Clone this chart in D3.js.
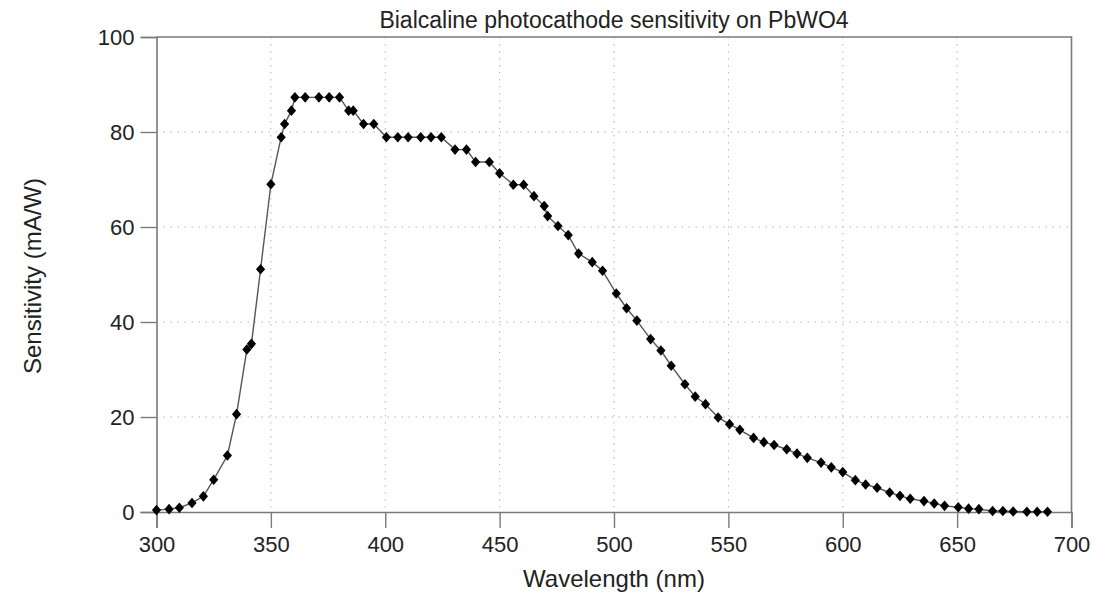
<!DOCTYPE html>
<html>
<head>
<meta charset="utf-8">
<script src="https://cdn.jsdelivr.net/npm/d3@7"></script>
<style>
  body { margin: 0; background: #fff; }
  text { font-family: "Liberation Sans", Arial, sans-serif; fill: #222; }
</style>
</head>
<body>
<script>
// wavelength (nm)
var wavelengths = [300, 305.5, 310, 315.5, 320.5, 325, 331, 335, 339.5, 341.5,
    345.5, 350, 354.5, 356, 359, 360.5, 365, 371, 375.5, 380,
    384, 386, 390.5, 395, 400.5, 405.5, 410, 415.5, 420, 424.5,
    430.5, 435.5, 439.5, 445.5, 450, 456, 460.5, 465, 469.5, 471,
    475.5, 480, 484.5, 490.5, 495, 501, 505.5, 510, 516, 520.5,
    525, 531, 535.5, 540, 545.5, 550.5, 555, 561, 565.5, 570,
    575.5, 580, 584.5, 590.5, 595, 600, 605.5, 610, 615, 620.5,
    625, 629.5, 635.5, 640, 644.5, 650.5, 655, 659.5, 665.5, 670,
    674.5, 680.5, 685, 689.5]
// sensitivity (mA/W)
var sensitivity = [0.4, 0.6, 0.9, 1.9, 3.3, 6.8, 11.9, 20.6, 34.2, 35.4,
    51.1, 69.0, 78.9, 81.7, 84.5, 87.3, 87.3, 87.3, 87.3, 87.3,
    84.5, 84.5, 81.7, 81.7, 78.9, 78.9, 78.9, 78.9, 78.9, 78.9,
    76.3, 76.3, 73.7, 73.7, 71.3, 68.9, 68.9, 66.5, 64.4, 62.3,
    60.2, 58.3, 54.4, 52.6, 50.8, 46.0, 42.9, 40.3, 36.4, 34.0,
    30.8, 26.9, 24.3, 22.7, 19.9, 18.5, 17.3, 15.6, 14.7, 14.1,
    13.2, 12.3, 11.4, 10.4, 9.4, 8.4, 6.7, 5.8, 5.1, 4.1,
    3.4, 2.8, 2.3, 1.8, 1.3, 1.0, 0.7, 0.6, 0.2, 0.2,
    0.1, 0.05, 0.05, 0.05]

var xTicks = [300, 350, 400, 450, 500, 550, 600, 650, 700]
var yTicks = [0, 20, 40, 60, 80, 100]

var titleText = "Bialcaline photocathode sensitivity on PbWO4"
var xLabel = "Wavelength (nm)"
var yLabel = "Sensitivity (mA/W)"

const width = 1094
const height = 594
// plot box edges
const plotLeft = 156.5, plotRight = 1071.5, plotTop = 37, plotBottom = 512

var data = wavelengths.map((w, i) => ({ w: w, s: sensitivity[i] }))

var svg = d3.select("body").append("svg")
    .attr("width", width)
    .attr("height", height)

var xScale = d3.scaleLinear().domain([300, 700]).range([plotLeft, plotRight])
var yScale = d3.scaleLinear().domain([0, 100]).range([plotBottom, plotTop])

// dotted grid
svg.append("g").selectAll("line")
    .data(xTicks.slice(1, -1))
    .enter().append("line")
    .attr("x1", d => xScale(d)).attr("x2", d => xScale(d))
    .attr("y1", plotTop).attr("y2", plotBottom)
    .attr("stroke", "#b5b5b5").attr("stroke-dasharray", "1.5,5.5")
svg.append("g").selectAll("line")
    .data(yTicks.slice(1, -1))
    .enter().append("line")
    .attr("y1", d => yScale(d)).attr("y2", d => yScale(d))
    .attr("x1", plotLeft).attr("x2", plotRight)
    .attr("stroke", "#b5b5b5").attr("stroke-dasharray", "1.5,5.5")

// frame top + right
svg.append("path")
    .attr("d", "M" + plotLeft + "," + plotTop + "H" + plotRight + "V" + plotBottom)
    .attr("fill", "none").attr("stroke", "#7a7a7a").attr("stroke-width", 1.6)

// x axis: minor ticks every 10, major every 50
var xAxisG = svg.append("g").attr("transform", "translate(0," + plotBottom + ")")
xAxisG.call(d3.axisBottom(xScale).tickValues(d3.range(300, 701, 10)).tickSize(8).tickFormat(""))
xAxisG.call(d3.axisBottom(xScale).tickValues(xTicks).tickSize(16).tickPadding(8).tickFormat(d3.format("d")))
xAxisG.selectAll("path.domain").attr("stroke", "#7a7a7a").attr("stroke-width", 1.6)
xAxisG.selectAll("line").attr("stroke", "#7a7a7a").attr("stroke-width", 1.4)
xAxisG.selectAll("text").attr("font-size", 22).attr("fill", "#222")
    .attr("font-family", "'Liberation Sans', Arial, sans-serif")

// y axis
var yAxisG = svg.append("g").attr("transform", "translate(" + plotLeft + ",0)")
yAxisG.call(d3.axisLeft(yScale).tickValues(d3.range(0, 101, 10)).tickSize(7).tickFormat(""))
yAxisG.call(d3.axisLeft(yScale).tickValues(yTicks).tickSize(16).tickPadding(6).tickFormat(d3.format("d")))
yAxisG.selectAll("path.domain").attr("stroke", "#7a7a7a").attr("stroke-width", 1.6)
yAxisG.selectAll("line").attr("stroke", "#7a7a7a").attr("stroke-width", 1.4)
yAxisG.selectAll("text").attr("font-size", 22).attr("fill", "#222")
    .attr("font-family", "'Liberation Sans', Arial, sans-serif")

// the curve
var line = d3.line().x(d => xScale(d.w)).y(d => yScale(d.s))
svg.append("path")
    .datum(data)
    .attr("d", line)
    .attr("fill", "none")
    .attr("stroke", "#555")
    .attr("stroke-width", 1.4)

// diamond markers
svg.append("g").selectAll("path")
    .data(data)
    .enter().append("path")
    .attr("transform", d => "translate(" + xScale(d.w) + "," + yScale(d.s) + ")")
    .attr("d", "M0,-5.3L4.6,0L0,5.3L-4.6,0Z")
    .attr("fill", "#000")

// titles
svg.append("text")
    .attr("x", (plotLeft + plotRight) / 2)
    .attr("y", 28)
    .attr("text-anchor", "middle")
    .attr("font-size", 23)
    .text(titleText)

svg.append("text")
    .attr("x", (plotLeft + plotRight) / 2)
    .attr("y", 587)
    .attr("text-anchor", "middle")
    .attr("font-size", 24)
    .text(xLabel)

svg.append("text")
    .attr("transform", "rotate(-90)")
    .attr("x", -276)
    .attr("y", 41)
    .attr("text-anchor", "middle")
    .attr("font-size", 24)
    .text(yLabel)
</script>
</body>
</html>
